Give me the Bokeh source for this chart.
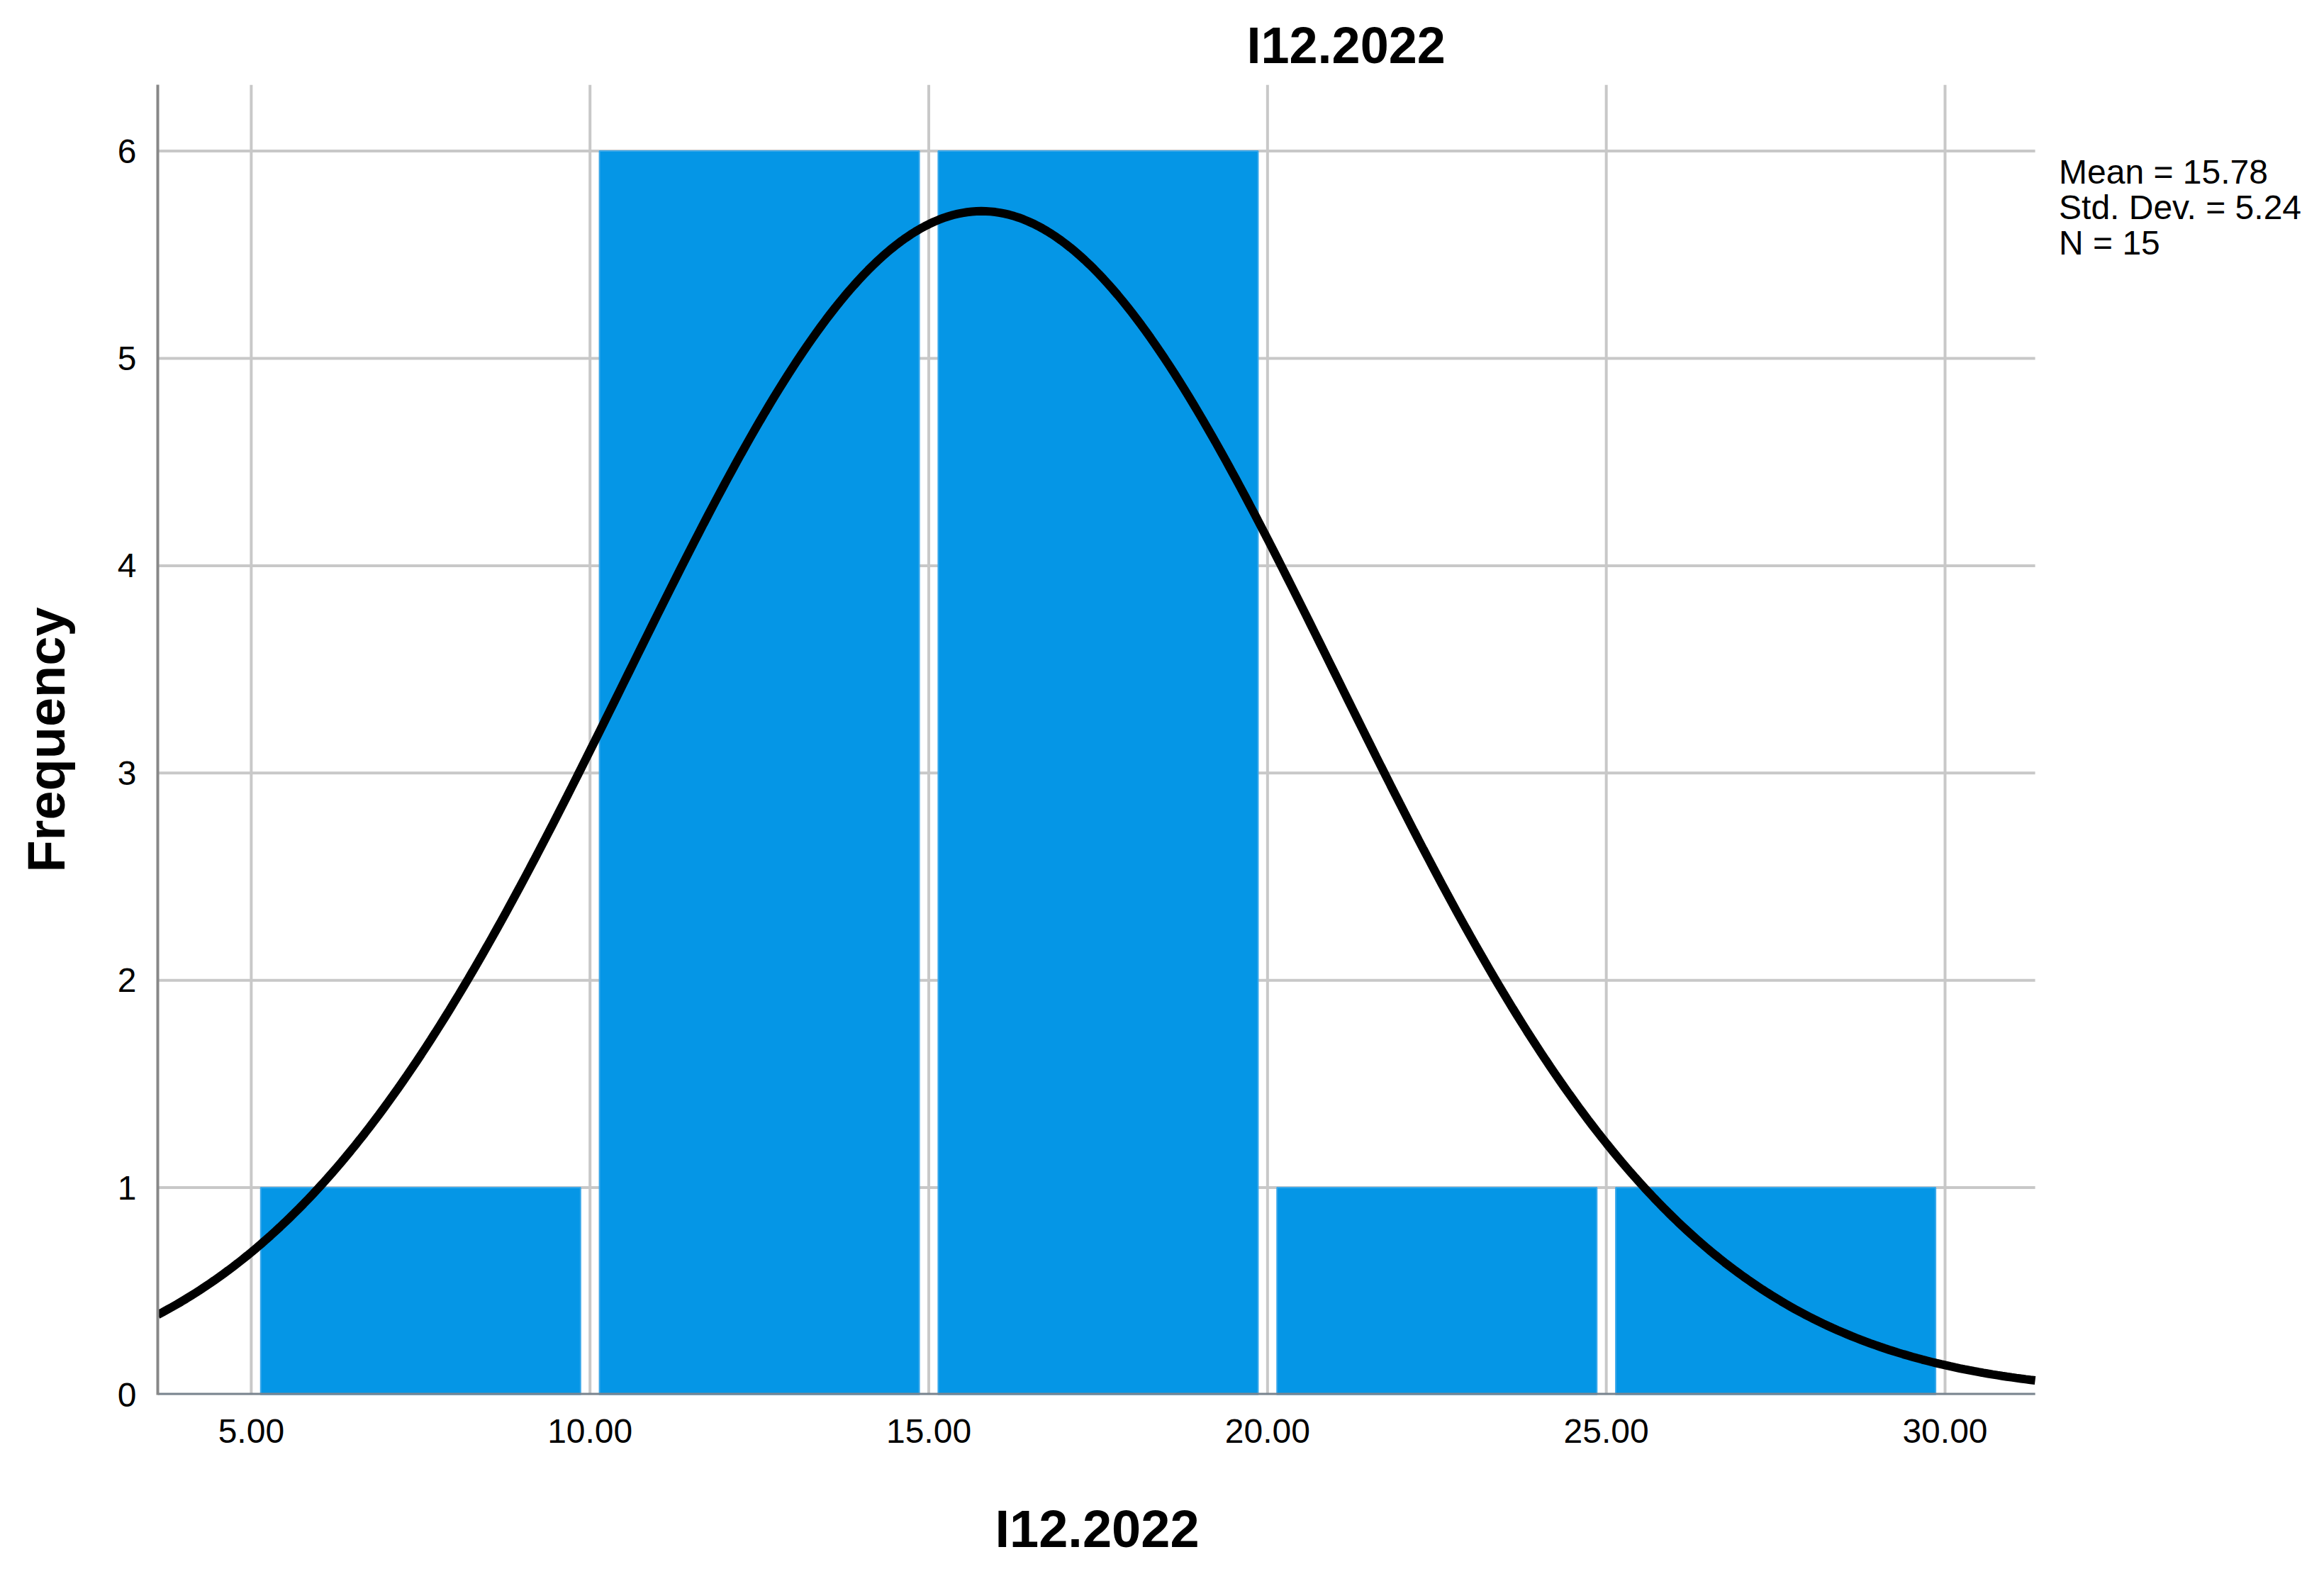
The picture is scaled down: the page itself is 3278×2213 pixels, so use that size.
import numpy as np
from bokeh.plotting import figure
from bokeh.models import Range1d, FixedTicker, Label, Title
from bokeh.embed import file_html
from bokeh.resources import INLINE

# ---- data ----
title_text = "I12.2022"
x_label_text = "I12.2022"
y_label_text = "Frequency"
bin_edges = [5.0, 10.0, 15.0, 20.0, 25.0, 30.0]
counts = [1, 6, 6, 1, 1]
stat_mean = 15.78
stat_sd = 5.24
stat_n = 15
x_ticks = [5, 10, 15, 20, 25, 30]
x_tick_labels = ["5.00", "10.00", "15.00", "20.00", "25.00", "30.00"]
y_ticks = [0, 1, 2, 3, 4, 5, 6]
stats_lines = ["Mean = 15.78", "Std. Dev. = 5.24", "N = 15"]

# ---- styling ----
FONT = "Liberation Sans"
BAR_COLOR = "#0596E6"
GRID = "#c8c8c8"
AXIS = "#888888"
X0, X_AXIS_END, X_FRAME_END = 3.62, 31.33, 35.41
Y0, Y1 = 0.0, 6.32

p = figure(
    frame_width=3038, frame_height=1848,
    min_border_left=222, min_border_right=0,
    min_border_top=119, min_border_bottom=240,
    x_range=Range1d(X0, X_FRAME_END), y_range=Range1d(Y0, Y1),
    output_backend="svg", toolbar_location=None,
    background_fill_color="white", border_fill_color="white",
)
p.outline_line_color = None
p.xgrid.visible = False
p.ygrid.visible = False

# title
p.title.text = title_text
p.title.text_font = FONT
p.title.text_font_style = "bold"
p.title.text_font_size = "72px"
p.title.text_color = "black"
p.title.align = "left"
p.title.offset = 1536
p.title.standoff = 32

# x-axis caption placed under the chart area (not the extended frame)
p.add_layout(Title(text=x_label_text, text_font=FONT, text_font_style="bold",
                   text_font_size="74px", text_color="black",
                   align="left", offset=1181, standoff=150), "below")

# grid lines drawn only over the chart area
p.segment(x0=[X0] * len(y_ticks), y0=y_ticks, x1=[X_AXIS_END] * len(y_ticks), y1=y_ticks,
          line_color=GRID, line_width=4)
p.segment(x0=x_ticks, y0=[Y0] * len(x_ticks), x1=x_ticks, y1=[Y1] * len(x_ticks),
          line_color=GRID, line_width=4)

# axes
p.xaxis.ticker = FixedTicker(ticks=x_ticks)
p.xaxis.major_label_overrides = {t: l for t, l in zip(x_ticks, x_tick_labels)}
p.yaxis.ticker = FixedTicker(ticks=y_ticks)
for ax in (p.xaxis, p.yaxis):
    ax.axis_line_color = AXIS
    ax.axis_line_width = 4
    ax.major_tick_line_color = None
    ax.minor_tick_line_color = None
    ax.major_label_text_font = FONT
    ax.major_label_text_font_size = "48px"
    ax.major_label_text_color = "black"
    ax.axis_label_text_font = FONT
    ax.axis_label_text_font_style = "bold"
    ax.axis_label_text_font_size = "74px"
    ax.axis_label_text_color = "black"
p.xaxis.axis_line_color = None
p.xaxis.major_label_standoff = 28
p.yaxis.axis_label = y_label_text
p.yaxis.major_label_standoff = 24
p.yaxis.axis_label_standoff = 56

# bars (inset from bin edges so gaps show)
inset = 0.14
lefts = [e + inset for e in bin_edges[:-1]]
rights = [e - inset for e in bin_edges[1:]]
p.quad(left=lefts, right=rights, bottom=0, top=counts,
       fill_color=BAR_COLOR, line_color="#3aa8ea", line_width=2)

# x axis line limited to chart area
p.segment(x0=[X0], y0=[Y0], x1=[X_AXIS_END], y1=[Y0], line_color="#7a8590", line_width=6)

# normal curve from displayed statistics
bin_w = bin_edges[1] - bin_edges[0]
xs = np.linspace(X0, X_AXIS_END, 400)
ys = stat_n * bin_w * np.exp(-0.5 * ((xs - stat_mean) / stat_sd) ** 2) / (stat_sd * np.sqrt(2 * np.pi))
p.line(xs, ys, line_color="black", line_width=12)

# stats text
for i, s in enumerate(stats_lines):
    p.add_layout(Label(x=31.68, y=5.90 - i * 0.172, text=s, text_font=FONT,
                       text_font_size="48px", text_align="left",
                       text_baseline="middle", text_color="black"))

open("out.html", "w").write(file_html(p, INLINE))
